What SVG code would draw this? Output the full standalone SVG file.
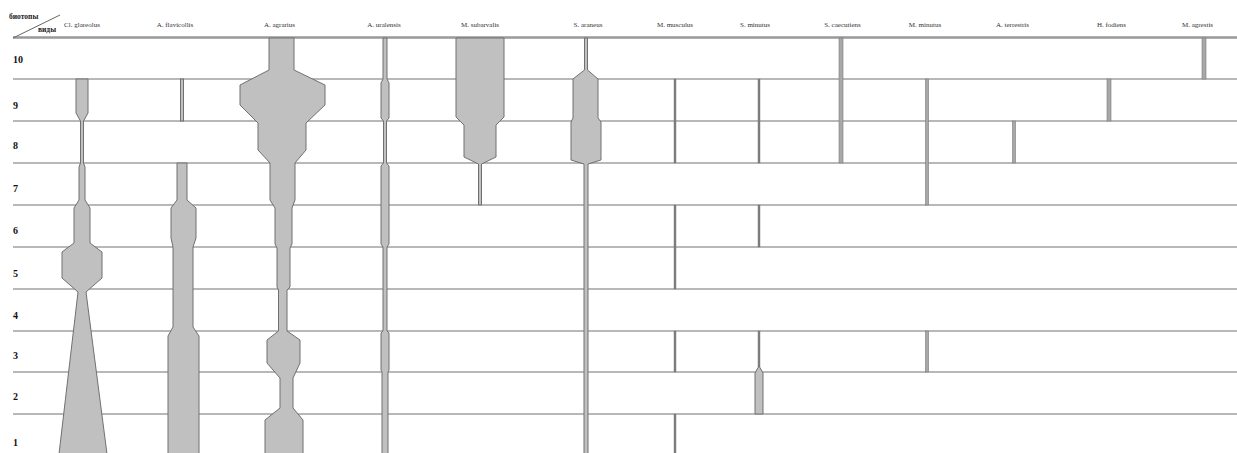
<svg xmlns="http://www.w3.org/2000/svg" width="1237" height="453" viewBox="0 0 1237 453">
<style>
.grid line{stroke:#a0a0a0;stroke-width:1.5}
.grid .top{stroke:#999;stroke-width:2.4}
.shape{fill:#c0c0c0;stroke:#707070;stroke-width:1}
.bar{fill:#a8a8a8;stroke:#7a7a7a;stroke-width:0.6}
.dk{fill:#808080;stroke:#707070;stroke-width:0.4}
.sp{font-family:"Liberation Serif",serif;font-size:7px;fill:#333;text-anchor:middle}
.row{font-family:"Liberation Serif",serif;font-size:10px;font-weight:bold;fill:#111}
.hd{font-family:"Liberation Serif",serif;font-size:7.5px;font-weight:bold;fill:#222}
</style>
<rect width="1237" height="453" fill="#fff"/>
<g id="grid" class="grid">
<line class="top" x1="13" y1="37.5" x2="1237" y2="37.5"/>
<line x1="13" y1="79" x2="1237" y2="79"/>
<line x1="13" y1="121" x2="1237" y2="121"/>
<line x1="13" y1="163" x2="1237" y2="163"/>
<line x1="13" y1="205" x2="1237" y2="205"/>
<line x1="13" y1="247" x2="1237" y2="247"/>
<line x1="13" y1="289" x2="1237" y2="289"/>
<line x1="13" y1="331" x2="1237" y2="331"/>
<line x1="13" y1="372" x2="1237" y2="372"/>
<line x1="13" y1="414" x2="1237" y2="414"/>
<line x1="13" y1="38" x2="60" y2="15" style="stroke:#666;stroke-width:1"/>
</g>
<g id="header">
<text class="hd" x="9" y="19">биотопы</text>
<text class="hd" x="38" y="32">виды</text>
</g>
<g id="rows">
<text class="row" x="13" y="63">10</text>
<text class="row" x="13" y="109">9</text>
<text class="row" x="13" y="149">8</text>
<text class="row" x="13" y="192">7</text>
<text class="row" x="13" y="234">6</text>
<text class="row" x="13" y="277">5</text>
<text class="row" x="13" y="319">4</text>
<text class="row" x="13" y="359">3</text>
<text class="row" x="13" y="400">2</text>
<text class="row" x="13" y="446">1</text>
</g>
<g id="cl-glareolus">
<text class="sp" x="82" y="26.5">Cl. glareolus</text>
<polygon class="shape" points="76,79 76,113 80.5,121 80.5,163 79,167 79,200 74,208 74,243 62,252 62,278 78,292 59,454 107,454 86,292 102,278 102,252 90,243 90,208 85,200 85,167 83.5,163 83.5,121 88,113 88,79"/>
</g>
<g id="a-flavicollis">
<text class="sp" x="175" y="26.5">A. flavicollis</text>
<rect class="shape" x="180.5" y="79" width="3" height="42"/>
<polygon class="shape" points="177,163 177,200 171,208 171,238 173,247 173,327 168,336 168,454 199,454 199,336 193,327 193,247 196,238 196,208 187,200 187,163"/>
</g>
<g id="a-agrarius">
<text class="sp" x="279.5" y="26.5">A. agrarius</text>
<polygon class="shape" points="269,38 269,70 240,85 240,105 258,123 258,150 270,163 270,200 275,208 275,244 277,248 277,287 278.5,290 278.5,331 267,340 267,363 280,378 280,408 265,420 265,454 303,454 303,420 293,408 293,378 300,363 300,340 287,331 287,290 290,287 290,248 292,244 292,208 295,200 295,163 306,150 306,123 325,105 325,85 294,70 294,38"/>
</g>
<g id="a-uralensis">
<text class="sp" x="384" y="26.5">A. uralensis</text>
<polygon class="shape" points="383,38 383,79 381,83 381,118 383.5,121 383.5,163 381,166 381,244 383,247 383,331 381,333 381,370 382,372 382,454 388,454 388,372 389,370 389,333 387,331 387,247 389,244 389,166 386.5,163 386.5,121 389,118 389,83 387,79 387,38"/>
</g>
<g id="m-subarvalis">
<text class="sp" x="480" y="26.5">M. subarvalis</text>
<polygon class="shape" points="456,38 456,117 464,125 464,157 478.5,164 478.5,205 481.5,205 481.5,164 496,157 496,125 504,117 504,38"/>
</g>
<g id="s-araneus">
<text class="sp" x="588" y="26.5">S. araneus</text>
<polygon class="shape" points="584.5,38 584.5,70 573,79 573,118 571,122 571,160 584,164 584,454 588,454 588,164 601,160 601,122 598,118 598,79 587.5,70 587.5,38"/>
</g>
<g id="m-musculus">
<text class="sp" x="675" y="26.5">M. musculus</text>
<rect class="dk" x="674" y="79" width="2" height="84"/>
<rect class="dk" x="674" y="205" width="2" height="84"/>
<rect class="dk" x="674" y="331" width="2" height="41"/>
<rect class="dk" x="674" y="414" width="2" height="40"/>
</g>
<g id="s-minutus">
<text class="sp" x="755" y="26.5">S. minutus</text>
<rect class="dk" x="758" y="79" width="2" height="84"/>
<rect class="dk" x="758" y="205" width="2" height="42"/>
<rect class="dk" x="758" y="331" width="2" height="36"/>
<polygon class="shape" points="759,366 755,373 755,414 763,414 763,373"/>
</g>
<g id="s-caecutiens">
<text class="sp" x="842.5" y="26.5">S. caecutiens</text>
<rect class="bar" x="839" y="38" width="4" height="125"/>
</g>
<g id="m-minutus">
<text class="sp" x="925" y="26.5">M. minutus</text>
<rect class="bar" x="925.5" y="79" width="3" height="126"/>
<rect class="bar" x="925.5" y="331" width="3" height="41"/>
</g>
<g id="a-terrestris">
<text class="sp" x="1012.5" y="26.5">A. terrestris</text>
<rect class="bar" x="1012.5" y="121" width="3" height="42"/>
</g>
<g id="h-fodiens">
<text class="sp" x="1111.5" y="26.5">H. fodiens</text>
<rect class="bar" x="1107" y="79" width="4" height="42"/>
</g>
<g id="m-agrestis">
<text class="sp" x="1197.5" y="26.5">M. agrestis</text>
<rect class="bar" x="1202" y="38" width="4" height="41"/>
</g>
</svg>
